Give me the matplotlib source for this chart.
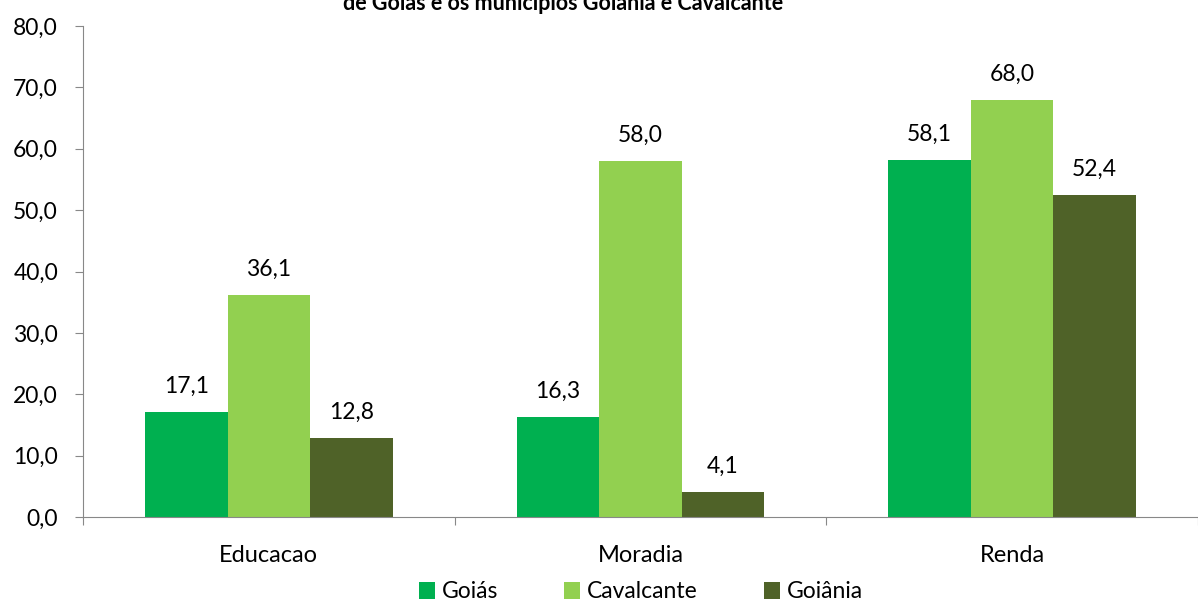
import numpy as np
import matplotlib.pyplot as plt

# Data
categories = ['Educacao', 'Moradia', 'Renda']
goias = [17.1, 16.3, 58.1]
cavalcante = [36.1, 58.0, 68.0]
goiania = [12.8, 4.1, 52.4]
series_names = ['Goiás', 'Cavalcante', 'Goiânia']
colors = ['#00B050', '#92D050', '#4F6228']

plt.rcParams['font.family'] = ['Lato', 'DejaVu Sans']

fig = plt.figure(figsize=(11.98, 6.03), dpi=100)
ax = fig.add_axes([83 / 1198, 86 / 603, 1 - 83 / 1198, 491 / 603])

x = np.arange(len(categories))
w = 0.222
for i, (vals, name, c) in enumerate(zip([goias, cavalcante, goiania], series_names, colors)):
    bars = ax.bar(x + (i - 1) * w, vals, width=w, color=c, label=name)
    for b, v in zip(bars, vals):
        ax.annotate(f'{v:.1f}'.replace('.', ','), (b.get_x() + b.get_width() / 2, v),
                    xytext=(0, 11), textcoords='offset points',
                    ha='center', va='bottom', fontsize=16.5)

ax.set_ylim(0, 80)
ax.set_xlim(-0.5, 2.46)
ax.set_yticks(np.arange(0, 81, 10))
ax.set_yticklabels([f'{t:.1f}'.replace('.', ',') for t in np.arange(0, 81, 10)], fontsize=16.5)
ax.tick_params(axis='y', length=6, color='#888888', pad=12)

# category labels in the middle, ticks at boundaries
ax.set_xticks([-0.5, 0.5, 1.5, 2.5])
ax.set_xticklabels([])
ax.set_xticks(x, minor=True)
ax.set_xticklabels(categories, minor=True, fontsize=17)
ax.tick_params(axis='x', which='major', length=6, color='#888888')
ax.tick_params(axis='x', which='minor', length=0, pad=20)

for s in ['top', 'right']:
    ax.spines[s].set_visible(False)
for s in ['left', 'bottom']:
    ax.spines[s].set_color('#888888')

fig.legend(loc='center', bbox_to_anchor=(641 / 1198, 1 - 592 / 603), ncol=3,
           frameon=False, fontsize=16.5, handlelength=0.7, handleheight=0.7,
           handletextpad=0.3, columnspacing=2.9)

fig.text(563 / 1198, 1 - 10 / 603, 'de Goiás e os municípios Goiânia e Cavalcante',
         ha='center', va='baseline', fontsize=15.5, fontweight='bold')

fig.savefig('out.png', dpi=100)
